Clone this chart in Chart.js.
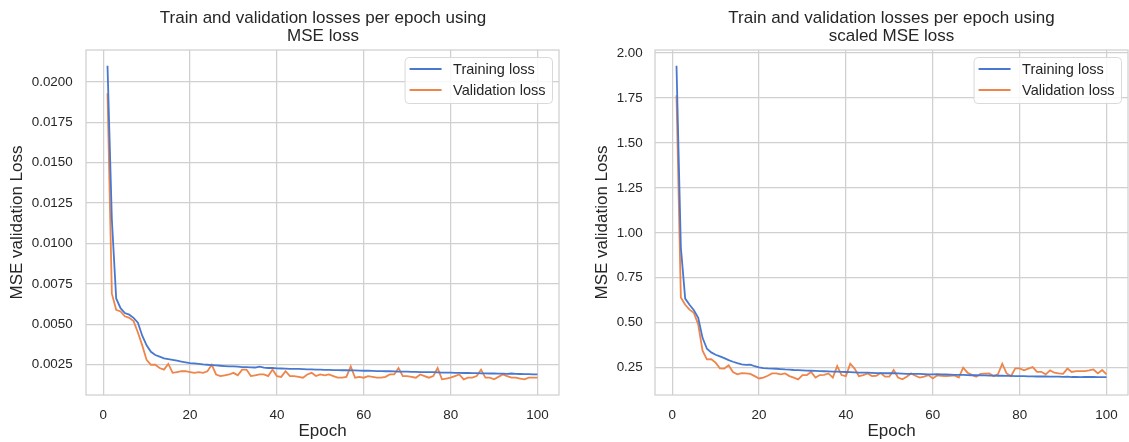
<!DOCTYPE html>
<html>
<head>
<meta charset="utf-8">
<script src="https://cdn.jsdelivr.net/npm/chart.js@4.4.1/dist/chart.umd.min.js"></script>
<style>
  html, body { margin: 0; padding: 0; background: #ffffff; overflow: hidden; width: 1129px; height: 442px; position: relative; }
  canvas { position: absolute; top: 0; }
</style>
</head>
<body>
<canvas id="mseChart" width="646" height="442" style="left:0px"></canvas>
<canvas id="scaledChart" width="643" height="442" style="left:570px"></canvas>
<script>
// Epoch numbers on the x axis
const epochs = Array.from({ length: 100 }, (_, i) => i + 1);

// Losses recorded with plain MSE
const mseTrain = [
  0.0210, 0.0115, 0.0066, 0.0060, 0.0057, 0.0056, 0.0054, 0.0051, 0.0043, 0.0037,
  0.0033, 0.0031, 0.0030, 0.0029, 0.00285, 0.0028, 0.00275, 0.0027, 0.00265, 0.0026,
  0.00258, 0.00255, 0.00252, 0.0025, 0.00248, 0.00246, 0.00244, 0.00242, 0.0024, 0.0024,
  0.00238, 0.00236, 0.00235, 0.00234, 0.00233, 0.00238, 0.00232, 0.0023, 0.0023, 0.00228,
  0.00227, 0.00226, 0.00225, 0.00225, 0.00224, 0.00223, 0.00222, 0.00222, 0.0022, 0.0022,
  0.00219, 0.00218, 0.00217, 0.00217, 0.00216, 0.00216, 0.00215, 0.00215, 0.00214, 0.00213,
  0.00213, 0.00212, 0.00211, 0.00211, 0.0021, 0.0021, 0.00209, 0.00208, 0.00208, 0.00207,
  0.00206, 0.00206, 0.00205, 0.00205, 0.00204, 0.00204, 0.00203, 0.00202, 0.00202, 0.00201,
  0.0020, 0.0020, 0.00199, 0.00199, 0.00198, 0.00198, 0.00197, 0.00197, 0.00196, 0.00196,
  0.00195, 0.00195, 0.00194, 0.00196, 0.00194, 0.00193, 0.00192, 0.00192, 0.00191, 0.0019
];
const mseVal = [
  0.0193, 0.0069, 0.0059, 0.0058, 0.0055, 0.0054, 0.0052, 0.0045, 0.0037, 0.0028,
  0.0025, 0.0025, 0.0023, 0.0022, 0.00255, 0.0020, 0.00205, 0.0021, 0.0021, 0.00205,
  0.0020, 0.00205, 0.0020, 0.0021, 0.0025, 0.0019, 0.0018, 0.00185, 0.0019, 0.0020,
  0.00185, 0.0022, 0.0022, 0.0018, 0.00185, 0.0019, 0.0019, 0.0018, 0.0022, 0.0018,
  0.00175, 0.0021, 0.0018, 0.0018, 0.00175, 0.0017, 0.0019, 0.0020, 0.0018, 0.0019,
  0.00185, 0.0019, 0.0018, 0.0017, 0.0017, 0.00175, 0.0024, 0.0017, 0.00175, 0.0017,
  0.0018, 0.00175, 0.0017, 0.0017, 0.00175, 0.0019, 0.0019, 0.0023, 0.0018, 0.0018,
  0.00175, 0.0017, 0.0019, 0.0018, 0.0017, 0.0018, 0.0023, 0.0016, 0.00165, 0.0017,
  0.0018, 0.0019, 0.0016, 0.0017, 0.0017, 0.0018, 0.0022, 0.0017, 0.0017, 0.0016,
  0.00175, 0.0019, 0.0018, 0.0017, 0.0017, 0.00165, 0.0016, 0.0017, 0.0017, 0.0017
];

// Losses recorded with scaled MSE
const scaledTrain = [
  1.93, 0.92, 0.634, 0.60, 0.57, 0.527, 0.416, 0.355, 0.335, 0.322,
  0.313, 0.303, 0.292, 0.283, 0.275, 0.268, 0.266, 0.267, 0.258, 0.252,
  0.248, 0.246, 0.245, 0.244, 0.242, 0.24, 0.239, 0.237, 0.236, 0.235,
  0.234, 0.233, 0.232, 0.231, 0.23, 0.229, 0.228, 0.228, 0.227, 0.226,
  0.225, 0.224, 0.223, 0.223, 0.222, 0.221, 0.22, 0.22, 0.219, 0.22,
  0.219, 0.218, 0.217, 0.216, 0.216, 0.215, 0.215, 0.214, 0.213, 0.213,
  0.214, 0.213, 0.212, 0.211, 0.21, 0.21, 0.21, 0.209, 0.208, 0.208,
  0.207, 0.207, 0.206, 0.206, 0.205, 0.205, 0.204, 0.204, 0.203, 0.203,
  0.203, 0.202, 0.202, 0.201, 0.201, 0.201, 0.2, 0.2, 0.2, 0.199,
  0.2, 0.198, 0.199, 0.197, 0.198, 0.198, 0.198, 0.197, 0.197, 0.197
];
const scaledVal = [
  1.765, 0.64, 0.60, 0.573, 0.555, 0.49, 0.345, 0.296, 0.297, 0.278,
  0.246, 0.245, 0.263, 0.226, 0.213, 0.22, 0.218, 0.215, 0.203, 0.19,
  0.195, 0.205, 0.218, 0.218, 0.213, 0.218, 0.203, 0.195, 0.185, 0.209,
  0.209, 0.226, 0.195, 0.209, 0.21, 0.218, 0.195, 0.259, 0.209, 0.203,
  0.272, 0.245, 0.203, 0.209, 0.218, 0.203, 0.205, 0.22, 0.2, 0.2,
  0.237, 0.195, 0.185, 0.2, 0.218, 0.205, 0.195, 0.2, 0.209, 0.19,
  0.207, 0.205, 0.203, 0.205, 0.207, 0.195, 0.25, 0.222, 0.21, 0.2,
  0.216, 0.217, 0.218, 0.203, 0.213, 0.272, 0.218, 0.203, 0.246, 0.246,
  0.235, 0.245, 0.253, 0.227, 0.227, 0.213, 0.235, 0.222, 0.218, 0.216,
  0.245, 0.226, 0.231, 0.231, 0.231, 0.235, 0.24, 0.218, 0.237, 0.213
];

// Tick positions
const epochTicks = [0, 20, 40, 60, 80, 100];
const mseTicks = [0.0025, 0.0050, 0.0075, 0.0100, 0.0125, 0.0150, 0.0175, 0.0200];
const scaledTicks = [0.25, 0.50, 0.75, 1.00, 1.25, 1.50, 1.75, 2.00];

const FONT = "'Liberation Sans', Arial, Helvetica, sans-serif";
const INK = '#262626';
const GRID = '#d0d0d0';
const TRAIN_COLOR = '#4878d0';
const VAL_COLOR = '#ee854a';

// Light frame around the plotting area
const framePlugin = {
  id: 'frame',
  beforeDatasetsDraw(chart) {
    const { ctx, chartArea: a } = chart;
    ctx.save();
    ctx.strokeStyle = GRID;
    ctx.lineWidth = 1.25;
    ctx.strokeRect(a.left, a.top, a.right - a.left, a.bottom - a.top);
    ctx.restore();
  }
};

// Boxed legend in the upper-right corner of the plotting area
const boxLegendPlugin = {
  id: 'boxLegend',
  afterDatasetsDraw(chart) {
    const { ctx, chartArea: a } = chart;
    const sets = chart.data.datasets;
    ctx.save();
    ctx.font = '14.5px ' + FONT;
    const textW = Math.max(...sets.map(d => ctx.measureText(d.label).width));
    const w = 5 + 32 + 11.5 + textW + 6.5;
    const h = 46;
    const right = a.right - 7;
    const left = right - w;
    const top = a.top + 7;
    ctx.beginPath();
    ctx.roundRect(left + 0.5, top + 0.5, w, h, 4);
    ctx.fillStyle = 'rgba(255,255,255,0.85)';
    ctx.fill();
    ctx.strokeStyle = '#d9d9d9';
    ctx.lineWidth = 1;
    ctx.stroke();
    sets.forEach((d, i) => {
      const y = top + 12 + i * 21;
      ctx.beginPath();
      ctx.moveTo(left + 5, y);
      ctx.lineTo(left + 37, y);
      ctx.strokeStyle = d.borderColor;
      ctx.lineWidth = 1.8;
      ctx.stroke();
      ctx.fillStyle = INK;
      ctx.textBaseline = 'middle';
      ctx.textAlign = 'left';
      ctx.fillText(d.label, left + 48.5, y + 0.5);
    });
    ctx.restore();
  }
};

function makeChart(id, cfg) {
  const toPoints = arr => arr.map((v, i) => ({ x: epochs[i], y: v }));
  return new Chart(document.getElementById(id), {
    type: 'line',
    data: {
      datasets: [
        { label: 'Training loss', data: toPoints(cfg.train), borderColor: TRAIN_COLOR, backgroundColor: TRAIN_COLOR, borderWidth: 1.8, pointRadius: 0, tension: 0 },
        { label: 'Validation loss', data: toPoints(cfg.val), borderColor: VAL_COLOR, backgroundColor: VAL_COLOR, borderWidth: 1.8, pointRadius: 0, tension: 0 }
      ]
    },
    options: {
      responsive: false,
      animation: false,
      events: [],
      layout: { padding: 0 },
      plugins: {
        legend: { display: false },
        tooltip: { enabled: false },
        title: {
          display: true,
          text: cfg.title,
          color: INK,
          font: { family: FONT, size: 17, weight: 'normal', lineHeight: 1.08 },
          padding: { top: 8.9, bottom: 4.4 }
        }
      },
      scales: {
        x: {
          type: 'linear',
          min: -3.95,
          max: 104.95,
          afterBuildTicks: s => { s.ticks = epochTicks.map(v => ({ value: v })); },
          afterFit: s => { s.height = 47; },
          ticks: { color: INK, font: { family: FONT, size: 13.4 }, padding: 12.4, callback: v => String(v) },
          grid: { color: GRID, lineWidth: 1.25, drawTicks: false },
          border: { display: false },
          title: { display: true, text: 'Epoch', color: INK, font: { family: FONT, size: 17 }, padding: { top: 0, bottom: 0 } }
        },
        y: {
          type: 'linear',
          min: cfg.yMin,
          max: cfg.yMax,
          afterBuildTicks: s => { s.ticks = cfg.yTicks.map(v => ({ value: v })); },
          afterFit: s => { s.width = cfg.yAxisWidth; },
          ticks: { color: INK, font: { family: FONT, size: 13.4 }, padding: cfg.tickPad, callback: v => v.toFixed(cfg.decimals) },
          grid: { color: GRID, lineWidth: 1.25, drawTicks: false },
          border: { display: false },
          title: { display: true, text: 'MSE validation Loss', color: INK, font: { family: FONT, size: 17 }, padding: { top: cfg.yTitlePad, bottom: 0 } }
        },
        // empty spacer on the right so the title centres over the plot
        spacer: {
          type: 'linear',
          position: 'right',
          display: true,
          afterFit: s => { s.width = cfg.rightSpace; },
          ticks: { display: false },
          grid: { display: false, drawTicks: false },
          border: { display: false },
          title: { display: false }
        }
      }
    },
    plugins: [framePlugin, boxLegendPlugin]
  });
}

makeChart('mseChart', {
  title: ['Train and validation losses per epoch using', 'MSE loss'],
  train: mseTrain,
  val: mseVal,
  yMin: 0.00063,
  yMax: 0.02197,
  yTicks: mseTicks,
  decimals: 4,
  yAxisWidth: 86,
  rightSpace: 87,
  tickPad: 13.3,
  yTitlePad: 7.5
});

makeChart('scaledChart', {
  title: ['Train and validation losses per epoch using', 'scaled MSE loss'],
  train: scaledTrain,
  val: scaledVal,
  yMin: 0.098,
  yMax: 2.017,
  yTicks: scaledTicks,
  decimals: 2,
  yAxisWidth: 85,
  rightSpace: 85,
  tickPad: 12.3,
  yTitlePad: 22.5
});
</script>
</body>
</html>
